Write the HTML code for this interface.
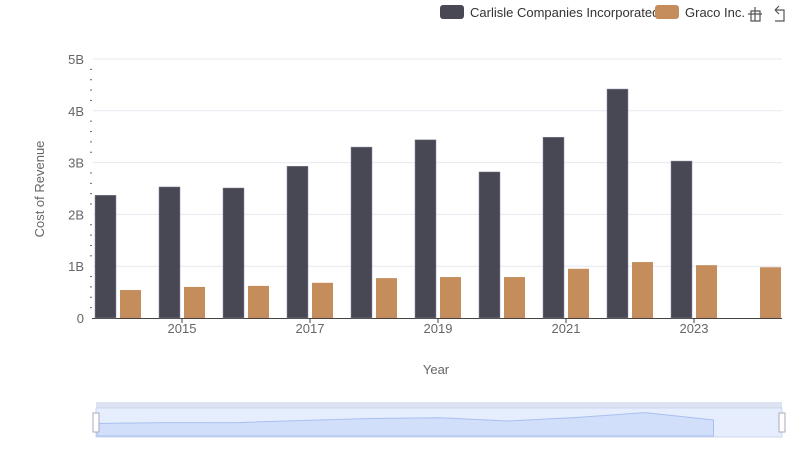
<!DOCTYPE html>
<html><head><meta charset="utf-8"><style>
body{margin:0;background:#fff;font-family:"Liberation Sans",sans-serif;}
svg text{font-family:"Liberation Sans",sans-serif;}
</style></head><body>
<svg width="800" height="461" xmlns="http://www.w3.org/2000/svg">
<g id="grid"></g>
<g id="yaxis"></g>
<g id="xaxis"></g>
<g id="bars"></g>
<text x="436" y="374" text-anchor="middle" font-size="13" fill="#666">Year</text>
<text transform="translate(44,189) rotate(-90)" text-anchor="middle" font-size="13" fill="#666">Cost of Revenue</text>
<g>
<g><rect x="440" y="5" width="24" height="14" rx="3" fill="#484855"/><text x="470" y="17" font-size="13" fill="#333">Carlisle Companies Incorporated</text></g>
<g><rect x="655" y="5" width="24" height="14" rx="3" fill="#c68d5c"/><text x="685" y="17" font-size="13" fill="#333">Graco Inc.</text></g>
</g>
<g stroke="#555" fill="none" stroke-width="1.2">
<path d="M748 14h14M755 7v14M751 11h9v10h-9z"/>
<path d="M775 10l4-4M775 10l4 4M775 10h9v11h-9"/>
</g>
<g>
<rect x="96" y="402" width="686" height="6" fill="#dde3f0"/>
<rect x="96" y="408" width="686" height="29" fill="#e6edfd" stroke="#ccd6ee"/>
<path id="mini" fill="#d1dffa" stroke="#a9c0f0"/>
<rect x="93" y="413" width="6" height="19" fill="#fff" stroke="#aab"/>
<rect x="779" y="413" width="6" height="19" fill="#fff" stroke="#aab"/>
</g>
</svg>
<script>
const years=[2014,2015,2016,2017,2018,2019,2020,2021,2022,2023,2024];
const carlisle=[2.37,2.53,2.51,2.93,3.30,3.44,2.82,3.49,4.42,3.03,null];
const graco=[0.54,0.60,0.62,0.68,0.77,0.79,0.79,0.95,1.08,1.02,0.98];
const yTicks=["0","1B","2B","3B","4B","5B"];
const xTickYears=[2015,2017,2019,2021,2023];
const NS="http://www.w3.org/2000/svg";
const y=v=>318-v*51.8;
const x=yr=>118+(yr-2014)*64;
function mk(tag,at,parent){const e=document.createElementNS(NS,tag);for(const k in at)e.setAttribute(k,at[k]);document.getElementById(parent).appendChild(e);return e;}
yTicks.forEach((t,i)=>{
 if(i>0){const g=mk('line',{x1:93,x2:782,y1:y(i),y2:y(i),stroke:'#e6e9f0'},'grid');
 
 }
 const tx=mk('text',{x:84,y:y(i)+5,'text-anchor':'end','font-size':13,fill:'#666'},'yaxis');tx.textContent=t;
 
 
});
for(let v=0.2;v<5;v+=0.2){if(Math.abs(v-Math.round(v))<0.01)continue;mk('line',{x1:90,x2:92,y1:y(v),y2:y(v),stroke:'#666'},'yaxis');}
mk('line',{x1:92,x2:782,y1:318.5,y2:318.5,stroke:'#444'},'xaxis');
xTickYears.forEach(yr=>{
 mk('line',{x1:x(yr),x2:x(yr),y1:318,y2:323,stroke:'#444'},'xaxis');
 const t=mk('text',{x:x(yr),y:333,'text-anchor':'middle','font-size':13,fill:'#666'},'xaxis');t.textContent=yr;
 
 
});
years.forEach((yr,i)=>{
 if(carlisle[i]!=null){const r=mk('rect',{x:x(yr)-23,y:y(carlisle[i]),width:21,height:carlisle[i]*51.8,fill:'#484855',stroke:'#8a8a99','stroke-width':0.5},'bars');
 
 }
 const g=mk('rect',{x:x(yr)+2,y:y(graco[i]),width:21,height:graco[i]*51.8,fill:'#c68d5c'},'bars');
 
 
});
// mini chart
let d='M97 436';const mx=i=>97+i*(685/10);
carlisle.forEach((v,i)=>{if(v!=null)d+=` L${mx(i)} ${436-v*5.3}`;});
d+=` L${mx(9)} 436 Z`;
document.getElementById('mini').setAttribute('d',d);
</script>
</body></html>
